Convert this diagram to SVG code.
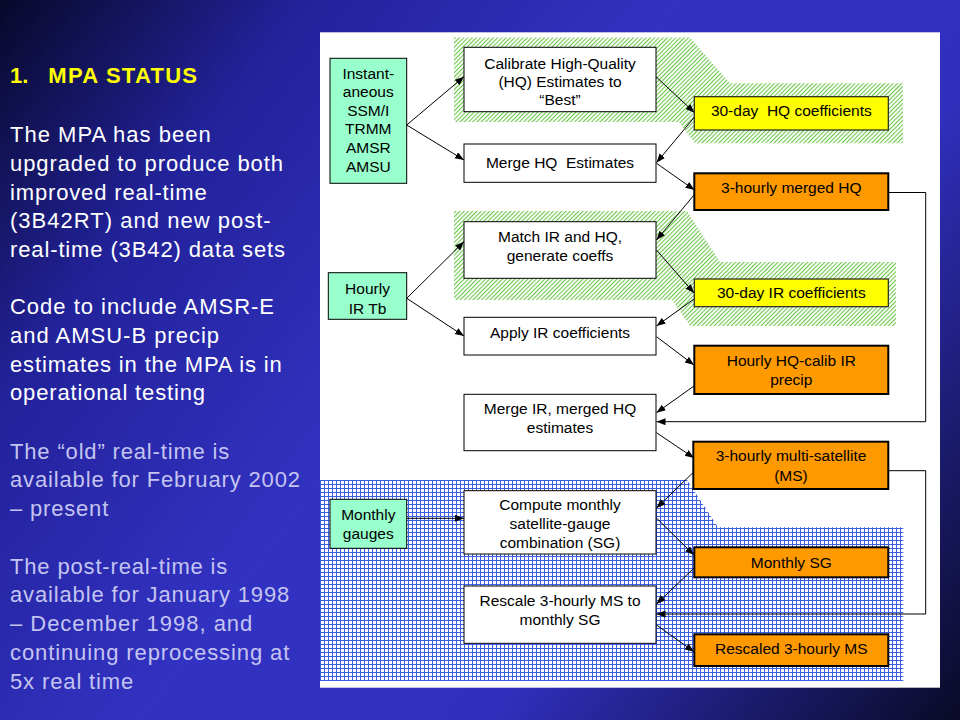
<svg xmlns="http://www.w3.org/2000/svg" width="960" height="720" viewBox="0 0 960 720">
<defs>
<linearGradient id="bg" gradientUnits="userSpaceOnUse" x1="0" y1="0" x2="960" y2="720">
<stop offset="0" stop-color="#08082a"/>
<stop offset="0.2" stop-color="#22229a"/>
<stop offset="0.45" stop-color="#3232c2"/>
<stop offset="0.68" stop-color="#3030c0"/>
<stop offset="0.86" stop-color="#1a1a6a"/>
<stop offset="1" stop-color="#0a0a26"/>
</linearGradient>
<pattern id="hatch" patternUnits="userSpaceOnUse" width="3" height="3" patternTransform="rotate(45)">
<rect x="0" y="0" width="3" height="3" fill="#ffffff"/>
<rect x="0" y="0" width="1.1" height="3" fill="#6cc84a"/>
</pattern>
<pattern id="grid" patternUnits="userSpaceOnUse" width="4" height="4">
<path d="M0,0.5 H4 M0.5,0 V4" stroke="#3a5ee6" stroke-width="1"/>
</pattern>
<marker id="ah" markerUnits="userSpaceOnUse" markerWidth="10" markerHeight="8" refX="9" refY="3.5" orient="auto">
<path d="M0,0 L9,3.5 L0,7 z" fill="#000"/>
</marker>
<style>
.side{font-family:"Liberation Sans",Arial,sans-serif;font-size:22px;fill:#ffffff}
.dim{fill:#c4c4f0}
.ttl{font-family:"Liberation Sans",Arial,sans-serif;font-size:22px;font-weight:bold;fill:#ffff00}
.t{font-family:"Liberation Sans",Arial,sans-serif;font-size:15.5px;fill:#000;text-anchor:middle}
.src{fill:#99ffcc;stroke:#000;stroke-width:1}
.proc{fill:#ffffff;stroke:#000;stroke-width:1}
.coef{fill:#ffff00;stroke:#222;stroke-width:1.2}
.prod{fill:#ff9900;stroke:#000;stroke-width:2}
.c{fill:none;stroke:#000;stroke-width:1;marker-end:url(#ah)}
</style>
</defs>
<rect x="0" y="0" width="960" height="720" fill="url(#bg)"/>
<g id="sidetext">
<text class="ttl" x="10" y="83.3">1.</text>
<text class="ttl" x="48.3" y="83.3" textLength="148.7" lengthAdjust="spacing">MPA STATUS</text>
<text class="side" x="10" y="141.5" textLength="200.7" lengthAdjust="spacing">The MPA has been</text>
<text class="side" x="10" y="170.5" textLength="273" lengthAdjust="spacing">upgraded to produce both</text>
<text class="side" x="10" y="199.5" textLength="196.7" lengthAdjust="spacing">improved real-time</text>
<text class="side" x="10" y="228" textLength="260.7" lengthAdjust="spacing">(3B42RT) and new post-</text>
<text class="side" x="10" y="257" textLength="275" lengthAdjust="spacing">real-time (3B42) data sets</text>
<text class="side" x="10" y="314" textLength="264" lengthAdjust="spacing">Code to include AMSR-E</text>
<text class="side" x="10" y="342.7" textLength="209" lengthAdjust="spacing">and AMSU-B precip</text>
<text class="side" x="10" y="371.5" textLength="271.7" lengthAdjust="spacing">estimates in the MPA is in</text>
<text class="side" x="10" y="400" textLength="195" lengthAdjust="spacing">operational testing</text>
<text class="side dim" x="10" y="458.5" textLength="219.3" lengthAdjust="spacing">The “old” real-time is</text>
<text class="side dim" x="10" y="487.3" textLength="290" lengthAdjust="spacing">available for February 2002</text>
<text class="side dim" x="10" y="515.8" textLength="98.3" lengthAdjust="spacing">– present</text>
<text class="side dim" x="10" y="573.5" textLength="217.3" lengthAdjust="spacing">The post-real-time is</text>
<text class="side dim" x="10" y="602" textLength="279.3" lengthAdjust="spacing">available for January 1998</text>
<text class="side dim" x="10" y="631" textLength="242.3" lengthAdjust="spacing">– December 1998, and</text>
<text class="side dim" x="10" y="659.5" textLength="279.3" lengthAdjust="spacing">continuing reprocessing at</text>
<text class="side dim" x="10" y="688.5" textLength="123.3" lengthAdjust="spacing">5x real time</text>
</g>
<rect x="320" y="32.3" width="620" height="655.4" fill="#ffffff"/>
<g id="regions">
<polygon points="454,37.5 690,37.5 730,83.3 903,83.3 903,143.3 695,143.3 679,122 454,122" fill="url(#hatch)"/>
<polygon points="454,211 687,211 720,262 896,262 896,326 690,326 672,300 454,300" fill="url(#hatch)"/>
<polygon points="320,480 687,480 718,527.3 903.3,527.3 903.3,681 320,681" fill="url(#grid)"/>
</g>
<g id="connectors">
<line class="c" x1="406.7" y1="125" x2="464" y2="76.7"/>
<line class="c" x1="406.7" y1="125" x2="464" y2="160"/>
<line class="c" x1="656" y1="76.7" x2="694.5" y2="112.7"/>
<line class="c" x1="694.5" y1="117" x2="656.5" y2="162.7"/>
<line class="c" x1="656.5" y1="163.3" x2="694.5" y2="190"/>
<line class="c" x1="694" y1="195" x2="656.5" y2="240"/>
<line class="c" x1="406.7" y1="298.3" x2="464" y2="241.7"/>
<line class="c" x1="406.7" y1="298.3" x2="464" y2="336"/>
<line class="c" x1="656.5" y1="250" x2="694" y2="293"/>
<line class="c" x1="694" y1="299" x2="656.5" y2="326"/>
<line class="c" x1="656.5" y1="336.7" x2="694" y2="365"/>
<line class="c" x1="694" y1="386" x2="656.5" y2="412.7"/>
<polyline class="c" points="888,192.5 925.7,192.5 925.7,421.7 656.5,421.7"/>
<line class="c" x1="656.5" y1="432.7" x2="694" y2="458"/>
<line class="c" x1="406.7" y1="518.3" x2="464" y2="518.3"/>
<line class="c" x1="694" y1="471.7" x2="656.5" y2="508"/>
<line class="c" x1="656.5" y1="518" x2="694" y2="555"/>
<line class="c" x1="694" y1="568" x2="656.5" y2="604"/>
<polyline class="c" points="888,470.7 925.7,470.7 925.7,614 656.5,614"/>
<line class="c" x1="656.5" y1="625" x2="694" y2="651.7"/>
</g>
<g id="n-instant">
<rect class="src" x="330" y="58.3" width="76.7" height="125"/>
<text class="t" x="368.3" y="78.5">Instant-</text>
<text class="t" x="368.3" y="97">aneous</text>
<text class="t" x="368.3" y="115.5">SSM/I</text>
<text class="t" x="368.3" y="134">TRMM</text>
<text class="t" x="368.3" y="153">AMSR</text>
<text class="t" x="368.3" y="171.5">AMSU</text>
</g>
<g id="n-calibrate">
<rect class="proc" x="464" y="47.3" width="192" height="64.4"/>
<text class="t" x="560" y="68.5">Calibrate High-Quality</text>
<text class="t" x="560" y="87">(HQ) Estimates to</text>
<text class="t" x="560" y="105.3">“Best”</text>
</g>
<g id="n-mergehq">
<rect class="proc" x="464" y="144" width="192" height="38.3"/>
<text class="t" x="560" y="168" xml:space="preserve">Merge HQ  Estimates</text>
</g>
<g id="n-hqcoef">
<rect class="coef" x="694.3" y="96.7" width="194" height="33.3"/>
<text class="t" x="791.3" y="116.3" xml:space="preserve">30-day  HQ coefficients</text>
</g>
<g id="n-mergedhq">
<rect class="prod" x="694.3" y="173.3" width="194" height="36.7"/>
<text class="t" x="791.3" y="193.3">3-hourly merged HQ</text>
</g>
<g id="n-irtb">
<rect class="src" x="328.3" y="272.7" width="78.4" height="46.6"/>
<text class="t" x="367.5" y="293.5">Hourly</text>
<text class="t" x="367.5" y="313.5">IR Tb</text>
</g>
<g id="n-match">
<rect class="proc" x="464" y="221.7" width="192" height="56.6"/>
<text class="t" x="560" y="242">Match IR and HQ,</text>
<text class="t" x="560" y="261.3">generate coeffs</text>
</g>
<g id="n-apply">
<rect class="proc" x="464" y="317.3" width="192" height="37.7"/>
<text class="t" x="560" y="338">Apply IR coefficients</text>
</g>
<g id="n-ircoef">
<rect class="coef" x="694.3" y="279" width="194" height="27.7"/>
<text class="t" x="791.3" y="298">30-day IR coefficients</text>
</g>
<g id="n-calibir">
<rect class="prod" x="694.3" y="345.7" width="194" height="48.3"/>
<text class="t" x="791.3" y="366.3">Hourly HQ-calib IR</text>
<text class="t" x="791.3" y="385.3">precip</text>
</g>
<g id="n-mergeir">
<rect class="proc" x="464" y="394.3" width="192" height="56.4"/>
<text class="t" x="560" y="413.6">Merge IR, merged HQ</text>
<text class="t" x="560" y="432.6">estimates</text>
</g>
<g id="n-ms">
<rect class="prod" x="693.3" y="441.7" width="195" height="47.3"/>
<text class="t" x="791" y="461.3">3-hourly multi-satellite</text>
<text class="t" x="791" y="481">(MS)</text>
</g>
<g id="n-gauges">
<rect class="src" x="330" y="499.3" width="76.7" height="49"/>
<text class="t" x="368.3" y="520.3">Monthly</text>
<text class="t" x="368.3" y="539.3">gauges</text>
</g>
<g id="n-compute">
<rect class="proc" x="464" y="490.7" width="192" height="63.3"/>
<text class="t" x="560" y="510.3">Compute monthly</text>
<text class="t" x="560" y="529.3">satellite-gauge</text>
<text class="t" x="560" y="548">combination (SG)</text>
</g>
<g id="n-sg">
<rect class="prod" x="694.3" y="547.3" width="194" height="30"/>
<text class="t" x="791.3" y="568">Monthly SG</text>
</g>
<g id="n-rescale">
<rect class="proc" x="464" y="586" width="192" height="57.3"/>
<text class="t" x="560" y="606.3">Rescale 3-hourly MS to</text>
<text class="t" x="560" y="625.3">monthly SG</text>
</g>
<g id="n-rescaled">
<rect class="prod" x="694.3" y="634.3" width="194" height="31.7"/>
<text class="t" x="791.3" y="653.6">Rescaled 3-hourly MS</text>
</g>
</svg>
